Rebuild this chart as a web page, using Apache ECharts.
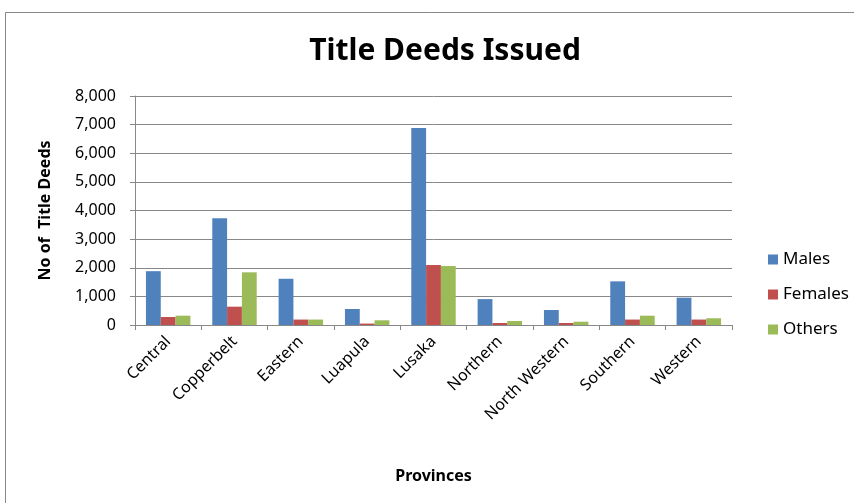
<!DOCTYPE html>
<html>
<head>
<meta charset="utf-8">
<script src="https://cdn.jsdelivr.net/npm/echarts@6/dist/echarts.min.js"></script>
<style>
  html, body { margin: 0; padding: 0; background: #fff; }
  #chart { width: 854px; height: 503px; }
</style>
</head>
<body>
<div id="chart"></div>
<script>
const provinces = ["Central", "Copperbelt", "Eastern", "Luapula", "Lusaka", "Northern", "North Western", "Southern", "Western"];
const males = [1880, 3730, 1615, 560, 6880, 905, 525, 1525, 955];
const females = [280, 640, 190, 50, 2095, 70, 70, 190, 190];
const others = [325, 1840, 190, 165, 2060, 140, 115, 325, 235];
const yTicks = [0, 1000, 2000, 3000, 4000, 5000, 6000, 7000, 8000];

const font = "Noto Sans";
const chart = echarts.init(document.getElementById("chart"));

const option = {
  animation: false,
  textStyle: { fontFamily: font },
  title: {
    text: "Title Deeds Issued",
    left: 440,
    top: 31,
    textAlign: "center",
    textStyle: { fontSize: 30, fontWeight: "bold", color: "#000", fontFamily: font },
  },
  graphic: [
    {
      type: "rect",
      shape: { x: 5.5, y: 12.5, width: 900, height: 520 },
      style: { fill: "none", stroke: "#888", lineWidth: 1 },
      silent: true,
    },
  ],
  legend: {
    orient: "vertical",
    left: 763,
    top: 246,
    icon: "rect",
    itemWidth: 10,
    itemHeight: 10,
    itemGap: 18,
    textStyle: { color: "#000", fontSize: 17, fontFamily: font },
    data: ["Males", "Females", "Others"],
  },
  grid: {
    left: 135,
    right: 122,
    top: 96,
    bottom: 178,
  },
  xAxis: {
    type: "category",
    data: provinces,
    name: "Provinces",
    nameLocation: "middle",
    nameGap: 143,
    nameTextStyle: { fontSize: 16, fontWeight: "bold", color: "#000", fontFamily: font },
    axisLine: { lineStyle: { color: "#888" } },
    axisTick: { show: true, length: 5, lineStyle: { color: "#888" } },
    axisLabel: { rotate: 45, color: "#000", fontSize: 16, margin: 14, fontFamily: font },
  },
  yAxis: {
    type: "value",
    min: yTicks[0],
    max: yTicks[yTicks.length - 1],
    interval: 1000,
    name: "No of  Title Deeds",
    nameLocation: "middle",
    nameGap: 82,
    nameTextStyle: { fontSize: 16, fontWeight: "bold", color: "#000", fontFamily: font },
    axisLine: { show: true, lineStyle: { color: "#888" } },
    axisTick: { show: true, length: 5, lineStyle: { color: "#888" } },
    axisLabel: {
      color: "#000",
      fontSize: 16,
      margin: 19,
      fontFamily: font,
      formatter: (v) => v.toLocaleString("en-US"),
    },
    splitLine: { show: true, lineStyle: { color: "#888", width: 1 } },
  },
  series: [
    {
      name: "Males",
      type: "bar",
      data: males,
      barGap: "0%",
      barCategoryGap: "33%",
      itemStyle: { color: "#4F81BD" },
    },
    {
      name: "Females",
      type: "bar",
      data: females,
      barGap: "0%",
      barCategoryGap: "33%",
      itemStyle: { color: "#C0504D" },
    },
    {
      name: "Others",
      type: "bar",
      data: others,
      barGap: "0%",
      barCategoryGap: "33%",
      itemStyle: { color: "#9BBB59" },
    },
  ],
};

chart.setOption(option);
</script>
</body>
</html>
